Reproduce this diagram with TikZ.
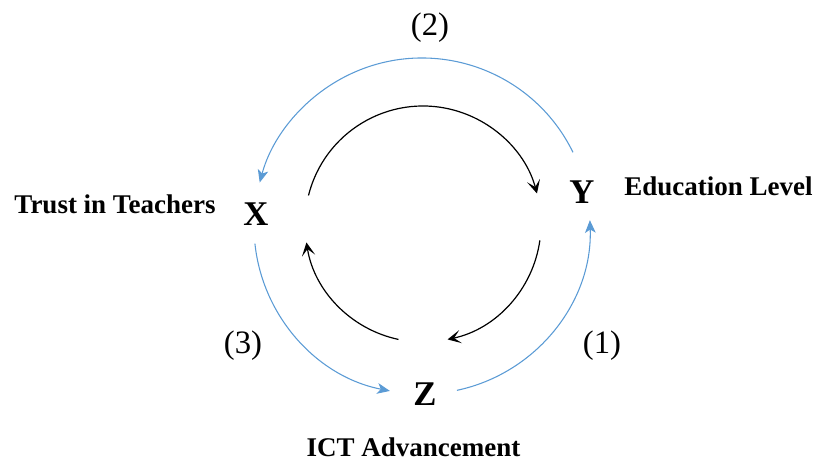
\documentclass[tikz,border=0pt]{standalone}
\usepackage{fontspec}
\setmainfont{Liberation Serif}
\usetikzlibrary{arrows.meta}
\definecolor{arcblue}{RGB}{91,155,213}
\tikzset{
  lbl/.style={inner sep=0pt, anchor=base, font=\fontsize{20.25}{24}\selectfont\bfseries},
  var/.style={inner sep=0pt, anchor=base, font=\fontsize{26}{30}\selectfont\bfseries},
  num/.style={inner sep=0pt, anchor=center, font=\fontsize{24.5}{28}\selectfont},
  bluearc/.style={draw=arcblue, line width=0.8pt, -{Stealth[length=9.5pt,width=8pt,inset=2.5pt]}},
  blackarc/.style={draw=black, line width=0.9pt, -{Stealth[length=10pt,width=10pt,inset=5pt]}}
}
\begin{document}
\begin{tikzpicture}[x=0.75pt,y=0.75pt]
\useasboundingbox (0,0) rectangle (818,-462);
% labels
\node[lbl] (tt) at (115,-213) {Trust in Teachers};
\node[var] (X) at (256,-225) {X};
\node[var] (Y) at (582,-203) {Y};
\node[lbl] (el) at (718.5,-195) {Education Level};
\node[var] (Z) at (425,-405) {Z};
\node[lbl] (ict) at (413.5,-456) {ICT Advancement};
\node[num] (n2) at (430,-28) {(2)};
\node[num] (n3) at (243,-346) {(3)};
\node[num] (n1) at (602,-346) {(1)};
% centres
\coordinate (cb) at (422,-226);
\coordinate (ck) at (423,-224);
% blue outer arcs
\path (cb) ++(26:168) coordinate (b2s);
\path (cb) ++(186:168) coordinate (b3s);
\path (cb) ++(-78:168) coordinate (b1s);
\draw[bluearc] (b2s) arc[start angle=26, end angle=165, radius=168];
\draw[bluearc] (b3s) arc[start angle=186, end angle=259, radius=168];
\draw[bluearc] (b1s) arc[start angle=-78, end angle=2, radius=168];
% black inner arcs
\path (ck) ++(166:118) coordinate (k1s);
\path (ck) ++(-8:118) coordinate (k2s);
\path (ck) ++(258:118) coordinate (k3s);
\draw[blackarc] (k1s) arc[start angle=166, end angle=15, radius=118];
\draw[blackarc] (k2s) arc[start angle=-8, end angle=-78, radius=118];
\draw[blackarc] (k3s) arc[start angle=258, end angle=189, radius=118];
\end{tikzpicture}
\end{document}
